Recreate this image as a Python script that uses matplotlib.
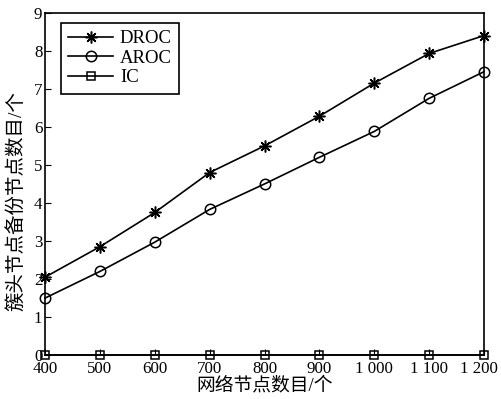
import matplotlib
matplotlib.use("Agg")
import matplotlib.pyplot as plt
import matplotlib.transforms as mtransforms

plt.rcParams["font.family"] = ["Liberation Serif", "Noto Sans CJK SC"]

nodes = [400, 500, 600, 700, 800, 900, 1000, 1100, 1200]
xtick_labels = ["400", "500", "600", "700", "800", "900", "1 000", "1 100", "1 200"]
droc = [2.05, 2.85, 3.75, 4.8, 5.5, 6.28, 7.15, 7.93, 8.4]
aroc = [1.5, 2.2, 2.97, 3.83, 4.5, 5.2, 5.88, 6.75, 7.45]
ic = [0, 0, 0, 0, 0, 0, 0, 0, 0]


def main():
    fig = plt.figure(figsize=(5.01, 3.99), dpi=100)
    ax = fig.add_axes([0.09, 0.11, 0.876, 0.858])

    style = dict(color="black", linewidth=1.2, clip_on=False, zorder=3)
    ax.plot(nodes, droc, marker=(8, 2, 0), markersize=8.5, markeredgewidth=1.1,
            label="DROC", **style)
    ax.plot(nodes, aroc, marker="o", markersize=7.5, markerfacecolor="none",
            markeredgewidth=1.1, label="AROC", **style)
    ax.plot(nodes, ic, marker="s", markersize=5.5, markerfacecolor="none",
            markeredgewidth=1.1, label="IC", **style)

    ax.set_xlim(400, 1200)
    ax.set_ylim(0, 9)
    ax.set_xticks(nodes)
    ax.set_xticklabels(xtick_labels)
    ax.set_yticks(range(0, 10))
    ax.tick_params(direction="in", labelsize=12.2, length=4)
    ax.tick_params(axis="x", pad=4)
    ax.tick_params(axis="y", pad=2)
    for sp in ax.spines.values():
        sp.set_linewidth(1.2)

    # last label sits against the figure edge, nudge it in a bit
    last = ax.get_xticklabels()[-1]
    shift = mtransforms.ScaledTranslation(-5 / 100, 0, fig.dpi_scale_trans)
    last.set_transform(last.get_transform() + shift)

    ax.set_xlabel("网络节点数目/个", fontsize=13.5, labelpad=0)
    ax.set_ylabel("簇头节点备份节点数目/个", fontsize=14, labelpad=0)
    ax.yaxis.set_label_coords(-0.045, 0.45)

    leg = ax.legend(loc="upper left", bbox_to_anchor=(0.036, 0.971), fontsize=13.5,
                    fancybox=False, edgecolor="black", framealpha=1,
                    handlelength=2.4, borderpad=0.4, labelspacing=0.12,
                    handletextpad=0.35, borderaxespad=0)
    leg.get_frame().set_linewidth(1.2)

    fig.savefig("out.png", dpi=100)
    plt.close(fig)


if __name__ == "__main__":
    main()
